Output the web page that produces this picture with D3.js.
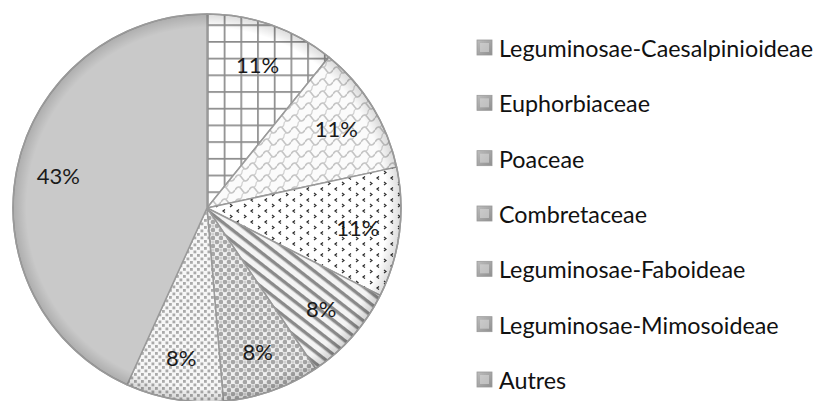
<!DOCTYPE html>
<html><head><meta charset="utf-8">
<script src="https://cdn.jsdelivr.net/npm/d3@7"></script>
<style>
html,body{margin:0;padding:0;background:#fff;}
svg{display:block;}
</style></head>
<body>
<svg id="chart" width="817" height="401"></svg>
<script>
const categories = ["Leguminosae-Caesalpinioideae","Euphorbiaceae","Poaceae","Combretaceae","Leguminosae-Faboideae","Leguminosae-Mimosoideae","Autres"];
const values = [10.8, 10.8, 10.8, 8.1, 8.1, 8.1, 43.2];
const patternIds = ["pGrid","pWave","pDots","pStripe","pCircle","pDotted","pSolid"];

const svg = d3.select("#chart");
const defs = svg.append("defs");
const cx = 207, cy = 208, R = 194;

function pat(id, w, h, bg){
  const p = defs.append("pattern").attr("id", id).attr("patternUnits","userSpaceOnUse")
    .attr("width", w).attr("height", h);
  p.append("rect").attr("width", w).attr("height", h).attr("fill", bg);
  return p;
}
let p = pat("pGrid", 16.7, 16.7, "#fff");
p.append("path").attr("d","M0,0.8H16.7M0.8,0V16.7").attr("stroke","#8c8c8c").attr("stroke-width",1.8);
p = pat("pWave", 14, 12, "#fbfbfb");
p.append("path").attr("d","M0,6 Q3.5,0 7,6 Q10.5,12 14,6").attr("fill","none").attr("stroke","#c4c4c4").attr("stroke-width",1.5);
p.append("path").attr("d","M7,0 Q7,3 3.5,3 M7,12 Q7,9 10.5,9").attr("fill","none").attr("stroke","#cfcfcf").attr("stroke-width",1.2);
p = pat("pDots", 14, 11, "#fff");
p.append("path").attr("d","M4,1.5 L2,3 L4,4.5").attr("fill","none").attr("stroke","#222").attr("stroke-width",1.2);
p.append("path").attr("d","M9,7 L11,8.5 L9,10").attr("fill","none").attr("stroke","#333").attr("stroke-width",1.2);
p = defs.append("pattern").attr("id","pStripe").attr("patternUnits","userSpaceOnUse")
  .attr("width",9).attr("height",9).attr("patternTransform","rotate(38)");
p.append("rect").attr("width",9).attr("height",9).attr("fill","#f4f4f4");
p.append("rect").attr("x",0).attr("y",0).attr("width",9).attr("height",3.4).attr("fill","#8a8a8a");
p = pat("pCircle", 8, 8, "#f0f0f0");
p.append("circle").attr("cx",2).attr("cy",2).attr("r",2.3).attr("fill","#a6a6a6");
p.append("circle").attr("cx",6).attr("cy",6).attr("r",2.3).attr("fill","#a6a6a6");
p.append("rect").attr("x",4.6).attr("y",0.6).attr("width",2.8).attr("height",2.8).attr("fill","#d0d0d0");
p = pat("pDotted", 7, 7, "#f7f7f7");
p.append("rect").attr("x",0.5).attr("y",0.5).attr("width",2.8).attr("height",2.8).attr("fill","#aaaaaa");
p.append("rect").attr("x",4).attr("y",4).attr("width",2.8).attr("height",2.8).attr("fill","#aaaaaa");

const bl = defs.append("radialGradient").attr("id","bevelLocal").attr("cx","50%").attr("cy","50%").attr("r","50%");
bl.append("stop").attr("offset","0").attr("stop-color","#000").attr("stop-opacity",0);
bl.append("stop").attr("offset","0.93").attr("stop-color","#000").attr("stop-opacity",0);
bl.append("stop").attr("offset","1").attr("stop-color","#000").attr("stop-opacity",0.14);

const lg = defs.append("linearGradient").attr("id","lgSw").attr("x1",0).attr("y1",0).attr("x2",1).attr("y2",1);
lg.append("stop").attr("offset","0").attr("stop-color","#bdbdbd");
lg.append("stop").attr("offset","1").attr("stop-color","#8f8f8f");

const pie = d3.pie().sort(null).value(d => d.v);
const data = categories.map((c,i) => ({c, v: values[i], pid: patternIds[i]}));
const arcs = pie(data);
const arc = d3.arc().innerRadius(0).outerRadius(R);
const labelArc = d3.arc().innerRadius(152).outerRadius(152);

const g = svg.append("g").attr("transform",`translate(${cx},${cy})`);
g.selectAll("path.slice").data(arcs).join("path").attr("class","slice")
  .attr("d", arc)
  .attr("fill", d => d.data.pid === "pSolid" ? "#c9c9c9" : `url(#${d.data.pid})`)
  .attr("stroke","#9a9a9a").attr("stroke-width",1.5).attr("stroke-linejoin","round");

g.append("circle").attr("r",R).attr("fill","url(#bevelLocal)");
g.append("circle").attr("r",R).attr("fill","none").attr("stroke","#9a9a9a").attr("stroke-width",1.5);

g.selectAll("text.lbl").data(arcs).join("text").attr("class","lbl")
  .attr("transform", d => `translate(${labelArc.centroid(d)})`)
  .attr("text-anchor","middle").attr("dominant-baseline","central")
  .attr("font-family","Lato, 'Open Sans', sans-serif").attr("font-size",22).attr("fill","#1a1a1a")
  .text(d => Math.round(d.data.v) + "%");

const ly = d3.scalePoint().domain(categories).range([48, 380]);
const items = svg.append("g").selectAll("g").data(categories).join("g")
  .attr("transform", d => `translate(477,${ly(d)})`);
items.append("rect").attr("x",0).attr("y",-8).attr("width",15).attr("height",15)
  .attr("fill","url(#lgSw)").attr("stroke","#9a9a9a").attr("stroke-width",0.8);
items.append("rect").attr("x",3).attr("y",-5).attr("width",9).attr("height",9).attr("fill","#d8d8d8").attr("opacity",0.6);
items.append("text").attr("x",22).attr("y",0).attr("dominant-baseline","central")
  .attr("font-family","Lato, 'Open Sans', sans-serif").attr("font-size",23.3).attr("fill","#111")
  .text(d => d);
</script>
</body></html>
